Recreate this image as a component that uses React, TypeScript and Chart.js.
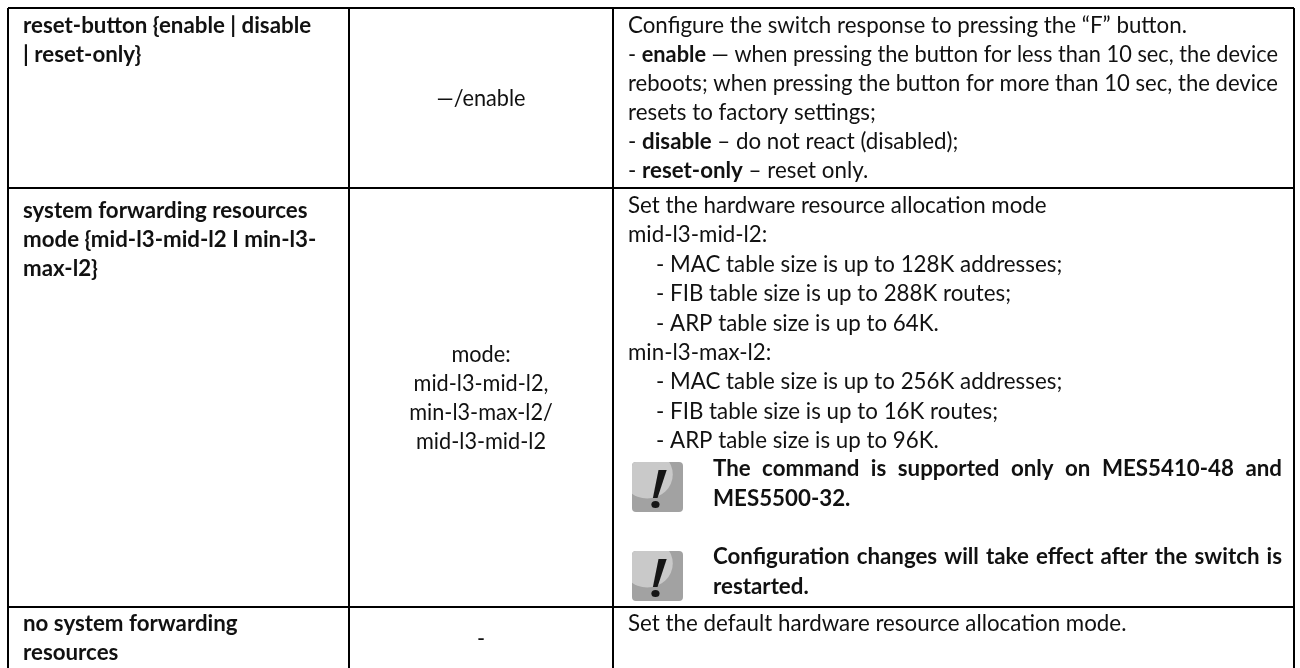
import React, { useEffect, useRef } from "react";
import { Chart, registerables } from "chart.js";

Chart.register(...registerables);

// Table rules (px in the 1300x668 image)
const columnRules = [8, 349, 613, 1294];
const rowRules = [8, 188, 607];

type Run = { t: string; b?: boolean };

const commandCells: string[][] = [
  ["reset-button {enable | disable", "| reset-only}"],
  ["system forwarding resources", "mode {mid-l3-mid-l2 I min-l3-", "max-l2}"],
  ["no system forwarding", "resources"],
];
const commandBaselines = [[33, 62], [218, 247, 276], [631, 660]];

const defaultCells: string[][] = [
  ["—/enable"],
  ["mode:", "mid-l3-mid-l2,", "min-l3-max-l2/", "mid-l3-mid-l2"],
  ["-"],
];
const defaultBaselines = [[106], [362, 391, 420, 449], [646]];

const descriptionLines: Run[][] = [
  [{ t: "Configure the switch response to pressing the “F” button." }],
  [{ t: "- " }, { t: "enable", b: true }, { t: " — when pressing the button for less than 10 sec, the device" }],
  [{ t: "reboots; when pressing the button for more than 10 sec, the device" }],
  [{ t: "resets to factory settings;" }],
  [{ t: "- " }, { t: "disable", b: true }, { t: " – do not react (disabled);" }],
  [{ t: "- " }, { t: "reset-only", b: true }, { t: " – reset only." }],
  [{ t: "Set the hardware resource allocation mode" }],
  [{ t: "mid-l3-mid-l2:" }],
  [{ t: "- MAC table size is up to 128K addresses;" }],
  [{ t: "- FIB table size is up to 288K routes;" }],
  [{ t: "- ARP table size is up to 64K." }],
  [{ t: "min-l3-max-l2:" }],
  [{ t: "- MAC table size is up to 256K addresses;" }],
  [{ t: "- FIB table size is up to 16K routes;" }],
  [{ t: "- ARP table size is up to 96K." }],
  [{ t: "Set the default hardware resource allocation mode." }],
];
const descriptionBaselines = [33, 62, 91, 120, 149, 178, 213, 242, 272, 301, 331, 360, 389, 419, 448, 631];
const descriptionIndents = [0, 0, 0, 0, 0, 0, 0, 0, 28, 28, 28, 0, 28, 28, 28, 0];
// Lines 2 and 3 are set tight in the reference, so both end at the same place
const descriptionLineEnds: (number | null)[] = [null, 1278, 1278, null, null, null, null, null, null, null, null, null, null, null, null, null];

const noteLines = [
  "The command is supported only on MES5410-48 and",
  "MES5500-32.",
  "Configuration changes will take effect after the switch is",
  "restarted.",
];
const noteBaselines = [476, 506, 564, 594];
const noteJustified = [true, false, true, false];
const iconTops = [462, 551];

const FONT = "Lato";
const SIZE = 23;
const SQUEEZE = 0.971;
const SQUEEZE_CENTER = 0.943;
const SQUEEZE_BOLD = 0.97;

function runsWidth(ctx: CanvasRenderingContext2D, runs: Run[], regular: number) {
  let w = 0;
  for (const r of runs) {
    ctx.font = `${r.b ? "bold " : ""}${SIZE}px ${FONT}`;
    w += ctx.measureText(r.t).width * (r.b ? SQUEEZE_BOLD : regular);
  }
  return w;
}

function drawRuns(ctx: CanvasRenderingContext2D, runs: Run[], x: number, y: number, regular = SQUEEZE, fit = 1) {
  let cx = x;
  for (const r of runs) {
    const k = (r.b ? SQUEEZE_BOLD : regular) * fit;
    ctx.save();
    ctx.translate(cx, y);
    ctx.scale(k, 1);
    ctx.font = `${r.b ? "bold " : ""}${SIZE}px ${FONT}`;
    ctx.fillText(r.t, 0, 0);
    cx += ctx.measureText(r.t).width * k;
    ctx.restore();
  }
}

function drawIcon(ctx: CanvasRenderingContext2D, x: number, y: number, w: number, h: number) {
  ctx.save();
  ctx.beginPath();
  ctx.roundRect(x, y, w, h, 4);
  ctx.clip();
  ctx.fillStyle = "#a2a2a2";
  ctx.fillRect(x, y, w, h);
  ctx.fillStyle = "#c9c9c9";
  ctx.beginPath();
  ctx.ellipse(x + w * 0.3, y + h * 0.25, w * 0.5, h * 0.48, 0, 0, Math.PI * 2);
  ctx.fill();
  ctx.fillStyle = "#161616";
  ctx.beginPath();
  ctx.moveTo(x + w * 0.52, y + h * 0.16);
  ctx.lineTo(x + w * 0.68, y + h * 0.16);
  ctx.lineTo(x + w * 0.5, y + h * 0.72);
  ctx.lineTo(x + w * 0.41, y + h * 0.72);
  ctx.closePath();
  ctx.fill();
  ctx.beginPath();
  ctx.ellipse(x + w * 0.46, y + h * 0.85, w * 0.08, h * 0.07, 0, 0, Math.PI * 2);
  ctx.fill();
  ctx.restore();
}

const tablePlugin = {
  id: "tableText",
  afterDatasetsDraw(chart: any) {
    const { ctx, scales } = chart;
    const X = (v: number) => scales.x.getPixelForValue(v);
    const Y = (v: number) => scales.y.getPixelForValue(v);
    ctx.save();
    ctx.fillStyle = "#111111";
    ctx.textBaseline = "alphabetic";
    ctx.textAlign = "left";
    commandCells.forEach((cell, i) =>
      cell.forEach((line, j) => drawRuns(ctx, [{ t: line, b: true }], X(23), Y(commandBaselines[i][j])))
    );
    defaultCells.forEach((cell, i) =>
      cell.forEach((line, j) => {
        const w = runsWidth(ctx, [{ t: line }], SQUEEZE_CENTER);
        drawRuns(ctx, [{ t: line }], X((columnRules[1] + columnRules[2]) / 2) - w / 2, Y(defaultBaselines[i][j]), SQUEEZE_CENTER);
      })
    );
    descriptionLines.forEach((runs, i) => {
      const start = X(628 + descriptionIndents[i]);
      const end = descriptionLineEnds[i];
      const fit = end === null ? 1 : (X(end) - start) / runsWidth(ctx, runs, SQUEEZE);
      drawRuns(ctx, runs, start, Y(descriptionBaselines[i]), SQUEEZE, fit);
    });
    noteLines.forEach((line, i) => {
      if (noteJustified[i]) {
        ctx.font = `bold ${SIZE}px ${FONT}`;
        const words = line.split(" ");
        const total = words.reduce((s, w) => s + ctx.measureText(w).width * SQUEEZE_BOLD, 0);
        const gap = (X(1282) - X(713) - total) / (words.length - 1);
        let cx = X(713);
        words.forEach((w) => {
          drawRuns(ctx, [{ t: w, b: true }], cx, Y(noteBaselines[i]));
          ctx.font = `bold ${SIZE}px ${FONT}`;
          cx += ctx.measureText(w).width * SQUEEZE_BOLD + gap;
        });
      } else {
        drawRuns(ctx, [{ t: line, b: true }], X(713), Y(noteBaselines[i]));
      }
    });
    iconTops.forEach((t) => drawIcon(ctx, X(632), Y(t), 51, 50));
    ctx.restore();
  },
};

export default function App() {
  const ref = useRef<HTMLCanvasElement>(null);
  useEffect(() => {
    document.body.style.margin = "0";
    document.body.style.background = "#ffffff";
    const chart = new Chart(ref.current!, {
      type: "scatter",
      data: { datasets: [{ data: [], pointRadius: 0 }] },
      options: {
        animation: false,
        responsive: false,
        events: [],
        layout: { padding: { left: 8, top: 8, right: 6, bottom: 0 } },
        plugins: { legend: { display: false }, tooltip: { enabled: false } },
        scales: {
          x: {
            type: "linear",
            min: columnRules[0],
            max: columnRules[columnRules.length - 1],
            afterBuildTicks: (s: any) => { s.ticks = columnRules.map((value) => ({ value })); },
            ticks: { display: false },
            border: { display: false },
            grid: { color: "#000000", lineWidth: 2, drawTicks: false },
          },
          y: {
            type: "linear",
            reverse: true,
            min: 8,
            max: 668,
            afterBuildTicks: (s: any) => { s.ticks = rowRules.map((value) => ({ value })); },
            ticks: { display: false },
            border: { display: false },
            grid: { color: "#000000", lineWidth: 2, drawTicks: false },
          },
        },
      },
      plugins: [tablePlugin],
    } as any);
    return () => chart.destroy();
  }, []);
  return <canvas ref={ref} width={1300} height={668} style={{ display: "block" }} />;
}
